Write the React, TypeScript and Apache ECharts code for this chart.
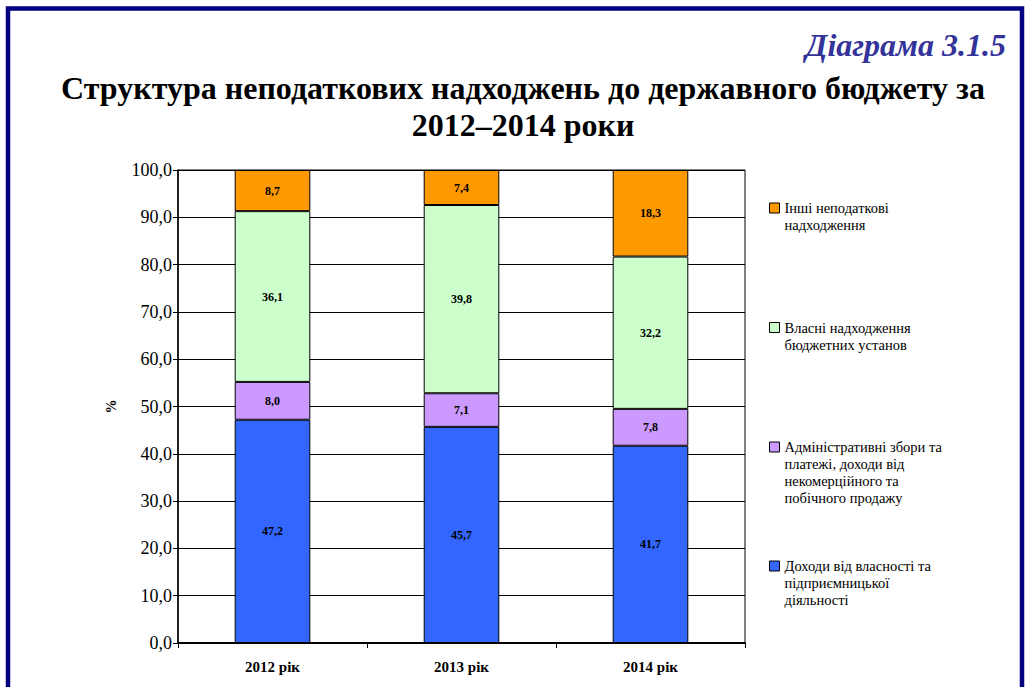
import React, { useEffect, useRef } from "react";
import * as echarts from "echarts";

const categories = ["2012 рік", "2013 рік", "2014 рік"];
const seriesNames = [
  "Доходи від власності та\nпідприємницької\nдіяльності",
  "Адміністративні збори та\nплатежі, доходи від\nнекомерційного та\nпобічного продажу",
  "Власні надходження\nбюджетних установ",
  "Інші неподаткові\nнадходження",
];
const propertyIncome = [47.2, 45.7, 41.7];
const adminFees = [8.0, 7.1, 7.8];
const ownRevenue = [36.1, 39.8, 32.2];
const otherRevenue = [8.7, 7.4, 18.3];
const seriesValues = [propertyIncome, adminFees, ownRevenue, otherRevenue];
const colors = ["#3366FF", "#CC99FF", "#CCFFCC", "#FF9900"];
const yTicks = { min: 0, max: 100, interval: 10 };

const FONT = "Liberation Serif";
const fmt = (v: number) => v.toFixed(1).replace(".", ",");

export default function App() {
  const ref = useRef<HTMLDivElement>(null);
  useEffect(() => {
    if (!ref.current) return;
    const chart = echarts.init(ref.current, undefined, { renderer: "svg" });
    const LH = 17;
    const legendCenters = [566, 447, 327.5, 208];
    const legends = seriesNames.map((name, i) => {
      const n = name.split("\n").length;
      const c = legendCenters[i];
      const top = c - ((2 * n - 1) * LH) / 2;
      return {
        show: true,
        left: 769,
        top,
        padding: 0,
        orient: "vertical",
        itemWidth: 10,
        itemHeight: 10,
        itemGap: 0,
        icon: "rect",
        data: [name],
        itemStyle: { borderColor: "#000", borderWidth: 1 },
        formatter: (nm: string) => " \n".repeat(n - 1) + nm,
        textStyle: {
          fontFamily: FONT,
          fontSize: 14.5,
          lineHeight: LH,
          color: "#000",
        },
        selectedMode: false,
      };
    });
    chart.setOption({
      animation: false,
      backgroundColor: "#fff",
      textStyle: { fontFamily: FONT },
      title: [
        {
          text: "Структура неподаткових надходжень до державного бюджету за\n2012–2014 роки",
          left: 518,
          top: 64,
          textAlign: "center",
          textStyle: {
            fontFamily: FONT,
            fontWeight: "bold",
            fontSize: 32,
            lineHeight: 37,
            color: "#000",
          },
        },
        {
          text: "Діаграма 3.1.5",
          right: 15,
          top: 24,
          textStyle: {
            fontFamily: FONT,
            fontWeight: "bold",
            fontStyle: "italic",
            fontSize: 32,
            color: "#333399",
          },
        },
      ],
      legend: legends,
      grid: {
        left: 178,
        top: 170,
        right: 281,
        bottom: 44,
        show: true,
        borderColor: "#000",
        borderWidth: 1,
        containLabel: false,
      },
      xAxis: {
        type: "category",
        data: categories,
        boundaryGap: true,
        axisLine: { lineStyle: { color: "#000", width: 2 } },
        axisTick: { show: true, length: 5, lineStyle: { color: "#000" } },
        axisLabel: {
          fontFamily: FONT,
          fontWeight: "bold",
          fontSize: 15,
          color: "#000",
          margin: 16,
        },
      },
      yAxis: {
        type: "value",
        min: yTicks.min,
        max: yTicks.max,
        interval: yTicks.interval,
        name: "%",
        nameLocation: "middle",
        nameGap: 60,
        nameRotate: 90,
        nameTextStyle: { fontFamily: FONT, fontWeight: "bold", fontSize: 14, color: "#000" },
        axisLine: { show: true, lineStyle: { color: "#000", width: 1.5 } },
        axisTick: { show: true, length: 5, lineStyle: { color: "#000" } },
        axisLabel: {
          fontFamily: FONT,
          fontSize: 18,
          color: "#000",
          margin: 6,
          formatter: (v: number) => fmt(v),
        },
        splitLine: { show: true, lineStyle: { color: "#000", width: 1 } },
      },
      series: seriesNames.map((name, i) => ({
        name,
        type: "bar",
        stack: "total",
        barWidth: "40%",
        data: seriesValues[i],
        itemStyle: { color: colors[i], borderColor: "#000", borderWidth: 1 },
        label: {
          show: true,
          position: "inside",
          fontFamily: FONT,
          fontWeight: "bold",
          fontSize: 12,
          color: "#000",
          formatter: (p: any) => fmt(p.value),
        },
      })),
      graphic: [
        {
          type: "rect",
          silent: true,
          z: 100,
          shape: { x: 8, y: 8.5, width: 1014, height: 700 },
          style: { fill: "none", stroke: "#000080", lineWidth: 4.5 },
        },
      ],
    });
    return () => chart.dispose();
  }, []);
  return (
    <div
      ref={ref}
      style={{ position: "fixed", left: 0, top: 0, width: 1026, height: 687 }}
    />
  );
}
